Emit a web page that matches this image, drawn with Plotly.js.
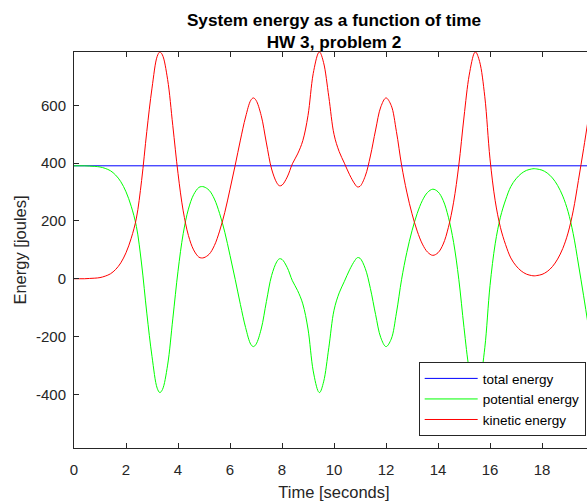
<!DOCTYPE html>
<html>
<head>
<meta charset="utf-8">
<script src="https://cdn.plot.ly/plotly-3.0.1.min.js"></script>
<style>
  html, body { margin: 0; padding: 0; overflow: hidden; background: #fff; }
  #chart { width: 596px; height: 504px; }
</style>
</head>
<body>
<div id="chart"></div>
<script>
// Time samples [s]
const timeS = [0,0.2,0.4,0.6,0.8,1.0,1.2,1.4,1.6,1.8,
  2.0,2.2,2.4,2.6,2.8,3.0,3.2,3.3,3.4,3.6,
  3.8,4.0,4.2,4.4,4.6,4.8,4.9,5.0,5.2,5.4,
  5.6,5.8,6.0,6.2,6.4,6.6,6.8,6.9,7.0,7.2,
  7.4,7.6,7.8,7.9,8.0,8.2,8.4,8.6,8.8,9.0,
  9.2,9.4,9.45,9.6,9.8,10.0,10.2,10.4,10.6,10.8,
  10.9,11.0,11.2,11.4,11.6,11.8,12.0,12.2,12.4,12.6,
  12.8,13.0,13.2,13.4,13.6,13.8,14.0,14.2,14.4,14.6,
  14.8,15.0,15.2,15.4,15.45,15.6,15.8,16.0,16.2,16.4,
  16.6,16.8,17.0,17.2,17.4,17.6,17.7,17.8,18.0,18.2,
  18.4,18.6,18.8,19.0,19.2,19.4,19.6,19.8];

// Kinetic energy [J]
const kineticE = [0,0,0,1,2,4,9,17,32,55,
  90,140,210,340,510,660,770,785,775,690,
  530,365,235,150,100,75,72,73,85,115,
  165,230,310,393,480,560,618,626,618,565,
  470,380,332,322,324,352,398,432,478,565,
  710,782,785,748,630,500,440,400,360,328,
  318,320,355,425,515,595,626,600,510,393,
  300,225,165,120,92,81,90,120,178,265,
  393,560,705,782,785,752,630,415,270,178,
  118,72,45,27,16,11,10,11,15,25,
  42,68,105,158,235,340,450,565];

// Potential energy [J]
const potentialE = [391,391,391,390,389,387,382,374,359,336,
  301,251,181,51,-119,-269,-379,-394,-384,-299,
  -139,26,156,241,291,316,319,318,306,276,
  226,161,81,-2,-89,-169,-227,-235,-227,-174,
  -79,11,59,69,67,39,-7,-41,-87,-174,
  -319,-391,-394,-357,-239,-109,-49,-9,31,63,
  73,71,36,-34,-124,-204,-235,-209,-119,-2,
  91,166,226,271,299,310,301,271,213,126,
  -2,-169,-314,-391,-394,-361,-239,-24,121,213,
  273,319,346,364,375,380,381,380,376,366,
  349,323,286,233,156,51,-59,-174];

// Total energy [J]
const totalTime = [0, 19.8];
const totalE = [391, 391];

// Tick labels
const xTickVals = [0,2,4,6,8,10,12,14,16,18];
const xTickText = ['0','2','4','6','8','10','12','14','16','18'];
const yTickVals = [-400,-200,0,200,400,600];
const yTickText = ['-400','-200','0','200','400','600'];

const seriesNames = ['total energy', 'potential energy', 'kinetic energy'];

const FONT = 'Liberation Sans, Arial, Helvetica, sans-serif';
const AX = '#262626';

const traces = [
  { x: totalTime, y: totalE, name: seriesNames[0], type: 'scatter', mode: 'lines',
    line: { color: 'rgb(0,0,255)', width: 1 } },
  { x: timeS, y: potentialE, name: seriesNames[1], type: 'scatter', mode: 'lines',
    line: { color: 'rgb(0,255,0)', width: 1, shape: 'spline', smoothing: 1 } },
  { x: timeS, y: kineticE, name: seriesNames[2], type: 'scatter', mode: 'lines',
    line: { color: 'rgb(255,0,0)', width: 1, shape: 'spline', smoothing: 1 } }
];

const layout = {
  width: 596, height: 504,
  margin: { l: 74, r: 2, t: 52, b: 56 },
  paper_bgcolor: '#ffffff', plot_bgcolor: '#ffffff',
  font: { family: FONT, color: AX },
  showlegend: true,
  title: {
    text: 'System energy as a function of time<br>HW 3, problem 2',
    font: { family: FONT, size: 17.2, weight: 'bold', color: '#000000' },
    x: 0.5, xref: 'paper', xanchor: 'center',
    y: 0.949, yref: 'container', yanchor: 'top'
  },
  xaxis: {
    range: [0, 20], tickmode: 'array', tickvals: xTickVals, ticktext: xTickText,
    ticks: 'inside', ticklen: 5, tickwidth: 1, tickcolor: AX,
    showline: true, linecolor: AX, linewidth: 1, mirror: 'ticks',
    showgrid: false, zeroline: false,
    tickfont: { family: FONT, size: 15, color: AX },
    ticklabelstandoff: 8,
    title: { text: 'Time [seconds]', font: { family: FONT, size: 16.5, color: AX }, standoff: 9 }
  },
  yaxis: {
    range: [-586, 785], tickmode: 'array', tickvals: yTickVals, ticktext: yTickText,
    ticks: 'inside', ticklen: 5, tickwidth: 1, tickcolor: AX,
    showline: true, linecolor: AX, linewidth: 1, mirror: 'ticks',
    showgrid: false, zeroline: false,
    tickfont: { family: FONT, size: 15, color: AX },
    ticklabelstandoff: 4,
    title: { text: 'Energy [joules]', font: { family: FONT, size: 16.5, color: AX }, standoff: 5 }
  },
  legend: {
    x: 0.984, xanchor: 'right', xref: 'paper',
    y: 0.03, yanchor: 'bottom', yref: 'paper',
    bgcolor: '#ffffff', bordercolor: AX, borderwidth: 1,
    font: { family: FONT, size: 13.5, color: '#000000' },
    itemwidth: 53, tracegroupgap: 0
  }
};

Plotly.newPlot('chart', traces, layout, { displayModeBar: false, staticPlot: true });
</script>
</body>
</html>
